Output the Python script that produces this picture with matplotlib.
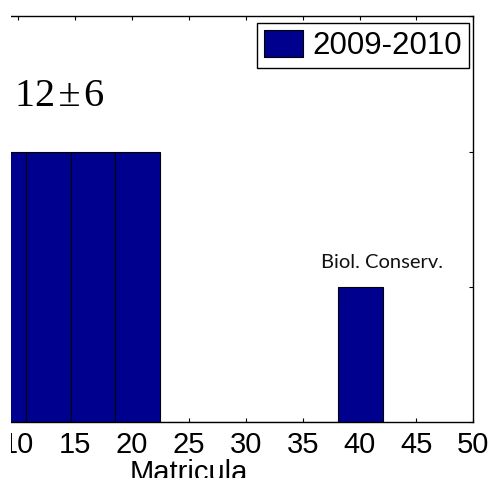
import matplotlib
matplotlib.use("Agg")
import matplotlib.pyplot as plt
from matplotlib.patches import Rectangle

# Data
bin_centers = [8.73, 12.65, 16.57, 20.49, 24.41, 28.33, 32.25, 36.17, 40.09]
counts = [2, 2, 2, 2, 0, 0, 0, 0, 1]
bin_width = 3.92
legend_label = "2009-2010"
stat_text = "12\u200a\u00b1\u200a6"
note_text = "Biol. Conserv."
x_label = "Matricula"
x_ticks = [0, 5, 10, 15, 20, 25, 30, 35, 40, 45, 50]
y_ticks = [0, 1, 2, 3]

W, H = 490, 478
fig = plt.figure(figsize=(W / 100, H / 100), dpi=100)

xlo, xhi = 0, 50
px_per_unit = (473.3 - 18.3) / 40.0
ax_left_px = 18.3 - (10 - xlo) * px_per_unit
ax_right_px = 473.3
ax_bottom_px = 478 - 422.3
ax_top_px = 478 - 16.3
ax = fig.add_axes([ax_left_px / W, ax_bottom_px / H,
                   (ax_right_px - ax_left_px) / W, (ax_top_px - ax_bottom_px) / H])

ax.bar(bin_centers, counts, width=bin_width, color="#00008f", edgecolor="black",
       linewidth=0.8, label=legend_label, zorder=2)

ax.set_xlim(xlo, xhi)
ax.set_ylim(0, 3)
ax.set_xticks(x_ticks)
ax.set_yticks(y_ticks)
ax.tick_params(direction="in", length=3, width=0.8, top=True, right=True,
               labelsize=21, pad=6)
for lab in ax.get_xticklabels() + ax.get_yticklabels():
    lab.set_fontfamily("Liberation Sans")
for s in ax.spines.values():
    s.set_linewidth(1.0)

ax.set_xlabel(x_label, fontfamily="Liberation Sans", fontsize=21, labelpad=0)

ax.text(10 + (15 - 18.3) / px_per_unit, 3 * (422.3 - 106) / 406.0, stat_text,
        family=["Liberation Serif", "DejaVu Serif"], fontsize=29,
        ha="left", va="baseline")
ax.text(42.0, 3 * (422.3 - 268) / 406.0, note_text, fontfamily="Lato",
        fontsize=14.5, ha="center", va="baseline", color="#111111")

leg = fig.legend(loc="upper right", bbox_to_anchor=(469 / W, 1 - 23 / H),
                 borderaxespad=0, prop={"family": "Liberation Sans", "size": 22.5},
                 fancybox=False, edgecolor="black", framealpha=1,
                 handlelength=1.25, handleheight=0.95, handletextpad=0.3,
                 borderpad=0.22)
leg.get_frame().set_linewidth(1.0)

# white mask for the cropped left strip
fig.patches.append(Rectangle((0, 0), 11 / W, 1, transform=fig.transFigure,
                             facecolor="white", edgecolor="none", zorder=100))

fig.savefig("out.png", dpi=100)
